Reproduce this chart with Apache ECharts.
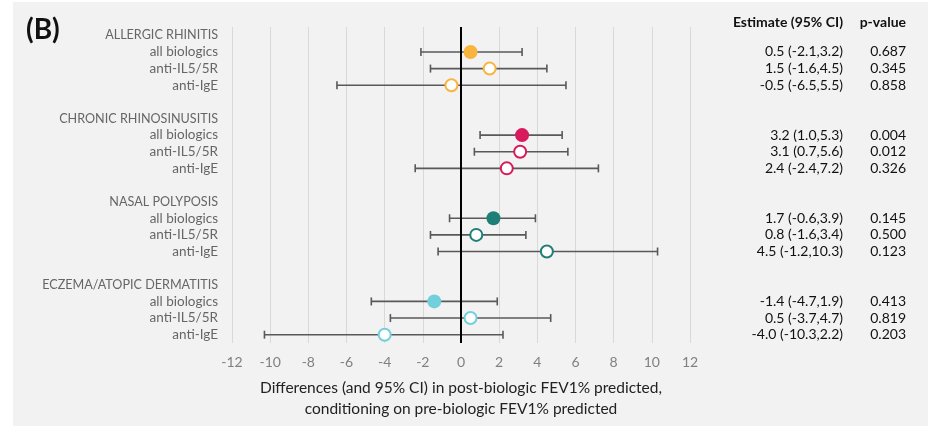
<!DOCTYPE html>
<html>
<head>
<meta charset="utf-8">
<script src="https://cdn.jsdelivr.net/npm/echarts@6/dist/echarts.min.js"></script>
<style>
html,body{margin:0;padding:0;background:#fff;}
#chart{width:928px;height:443px;}
</style>
</head>
<body>
<div id="chart"></div>
<script>
// ---- data ----
var rowLabels = [
  'ALLERGIC RHINITIS','all biologics','anti-IL5/5R','anti-IgE','',
  'CHRONIC RHINOSINUSITIS','all biologics','anti-IL5/5R','anti-IgE','',
  'NASAL POLYPOSIS','all biologics','anti-IL5/5R','anti-IgE','',
  'ECZEMA/ATOPIC DERMATITIS','all biologics','anti-IL5/5R','anti-IgE'
];
var headerRows = [0, 5, 10, 15];
var rowIndex = [1,2,3, 6,7,8, 11,12,13, 16,17,18];
var estimate = [0.5,1.5,-0.5, 3.2,3.1,2.4, 1.7,0.8,4.5, -1.4,0.5,-4.0];
var lower    = [-2.1,-1.6,-6.5, 1.0,0.7,-2.4, -0.6,-1.6,-1.2, -4.7,-3.7,-10.3];
var upper    = [3.2,4.5,5.5, 5.3,5.6,7.2, 3.9,3.4,10.3, 1.9,4.7,2.2];
var pValues  = ['0.687','0.345','0.858','0.004','0.012','0.326','0.145','0.500','0.123','0.413','0.819','0.203'];
var groupOf  = [0,0,0, 1,1,1, 2,2,2, 3,3,3];
var filled   = [true,false,false, true,false,false, true,false,false, true,false,false];

// ---- styles ----
var groupColors = ['#F9B43E','#D81A5C','#1E7F77','#72D0DC'];
var FONT = 'Lato, "Open Sans", sans-serif';

function fmt(v){ return v.toFixed(1); }
var estLabels = rowLabels.map(function(){return '';});
var pLabels = rowLabels.map(function(){return '';});
rowIndex.forEach(function(r,i){
  estLabels[r] = fmt(estimate[i]) + ' (' + fmt(lower[i]) + ',' + fmt(upper[i]) + ')';
  pLabels[r] = pValues[i];
});

var ciData = rowIndex.map(function(r,i){ return [lower[i], r, upper[i]]; });
var ptData = rowIndex.map(function(r,i){
  var c = groupColors[groupOf[i]];
  return {
    value: [estimate[i], r],
    symbolSize: filled[i] ? 14 : 12,
    itemStyle: filled[i] ? {color: c, borderWidth: 0, opacity: 1} : {color: '#ffffff', borderColor: c, borderWidth: 2, opacity: 1}
  };
});

var chart = echarts.init(document.getElementById('chart'));
var gridLeft = 232, gridRight = 690, gridTop = 27, gridBottom = 343;

chart.setOption({
  backgroundColor: '#ffffff',
  animation: false,
  textStyle: {fontFamily: FONT},
  graphic: [
    {type:'rect', z:-10, shape:{x:13,y:2,width:915,height:424}, style:{fill:'#F2F2F2'}},
    {type:'text', x: 26, y: 30, style:{text:'(B)', font:'bold 28px ' + FONT, fill:'#111', verticalAlign:'middle'}},
    {type:'text', x: 843, y: 22, style:{text:'Estimate (95% CI)', font:'bold 14px ' + FONT, fill:'#111', align:'right', verticalAlign:'middle'}},
    {type:'text', x: 906, y: 22, style:{text:'p-value', font:'bold 14px ' + FONT, fill:'#111', align:'right', verticalAlign:'middle'}}
  ],
  grid: {left: gridLeft, right: 928 - gridRight, top: gridTop, bottom: 443 - gridBottom, containLabel: false},
  xAxis: {
    type: 'value', min: -12, max: 12, interval: 2,
    axisLine: {show: false}, axisTick: {show: false},
    axisLabel: {color: '#808080', fontSize: 14, margin: 12, fontFamily: FONT},
    splitLine: {show: true, lineStyle: {color: '#D9D9D9', width: 1}},
    name: 'Differences (and 95% CI) in post-biologic FEV1% predicted,\nconditioning on pre-biologic FEV1% predicted',
    nameLocation: 'middle', nameGap: 34,
    nameTextStyle: {color: '#222', fontSize: 15.5, lineHeight: 21, fontFamily: FONT, verticalAlign: 'top'}
  },
  yAxis: [
    {
      type: 'category', data: rowLabels, inverse: true,
      axisLine: {show: false, onZero: false}, axisTick: {show: false}, splitLine: {show: false},
      axisLabel: {
        color: '#666666', fontSize: 13.5, margin: 14, interval: 0, fontFamily: FONT,
        formatter: function(v, idx){ return headerRows.indexOf(idx) >= 0 ? '{h|' + v + '}' : v; },
        rich: {h: {color: '#666666', fontSize: 12.6, fontFamily: FONT}}
      }
    },
    {
      type: 'category', data: estLabels, inverse: true, position: 'right',
      axisLine: {show: false, onZero: false}, axisTick: {show: false}, splitLine: {show: false},
      axisLabel: {color: '#111', fontSize: 14, margin: 153, align: 'right', interval: 0, fontFamily: FONT}
    },
    {
      type: 'category', data: pLabels, inverse: true, position: 'right',
      axisLine: {show: false, onZero: false}, axisTick: {show: false}, splitLine: {show: false},
      axisLabel: {color: '#111', fontSize: 14, margin: 216, align: 'right', interval: 0, fontFamily: FONT}
    }
  ],
  series: [
    {
      type: 'custom', z: 3, xAxisIndex: 0, yAxisIndex: 0,
      data: ciData,
      encode: {x: [0, 2], y: 1},
      renderItem: function(params, api){
        var y = api.value(1);
        var p1 = api.coord([api.value(0), y]);
        var p2 = api.coord([api.value(2), y]);
        var h = 4;
        var st = {stroke: '#595959', lineWidth: 1.6};
        return {type:'group', children:[
          {type:'line', shape:{x1:p1[0],y1:p1[1],x2:p2[0],y2:p2[1]}, style: st},
          {type:'line', shape:{x1:p1[0],y1:p1[1]-h,x2:p1[0],y2:p1[1]+h}, style: st},
          {type:'line', shape:{x1:p2[0],y1:p2[1]-h,x2:p2[0],y2:p2[1]+h}, style: st}
        ]};
      }
    },
    {
      type: 'scatter', z: 5, xAxisIndex: 0, yAxisIndex: 0, symbol: 'circle',
      itemStyle: {opacity: 1},
      data: ptData,
      markLine: {
        silent: true, symbol: 'none', label: {show: false}, z: 4,
        lineStyle: {color: '#000', width: 2, type: 'solid'},
        data: [{xAxis: 0}]
      }
    }
  ]
});
</script>
</body>
</html>
